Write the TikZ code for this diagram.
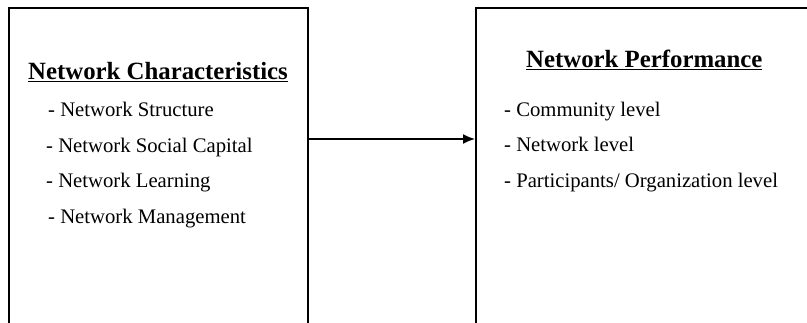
\documentclass[tikz,border=0pt]{standalone}
\usepackage{fontspec}
\setmainfont{Liberation Serif}
\usepackage{tikz}
\usetikzlibrary{arrows.meta, positioning}

\begin{document}
\begin{tikzpicture}[
  x=1pt, y=-1pt,
  box/.style={draw, line width=1.6pt, minimum height=340pt, anchor=north west, inner sep=0pt},
  title/.style={anchor=base west, inner sep=0pt, font=\fontsize{24.8}{28}\selectfont\bfseries},
  item/.style={anchor=base west, inner sep=0pt, font=\fontsize{20.7}{24}\selectfont},
  arrow/.style={-{Latex[length=12pt,width=10pt]}, line width=1.6pt}
]
\useasboundingbox (0,0) rectangle (807,323);
\clip (0,0) rectangle (807,323);

% Nodes
\node[box, minimum width=299pt] (nc) at (8,7) {};
\node[box, minimum width=345pt] (np) at (475,7) {};

\node[title] (nct) at (28,80) {\underline{Network Characteristics}};
\node[item] (nc1) at (48,117) {- Network Structure};
\node[item] (nc2) at (46,153) {- Network Social Capital};
\node[item] (nc3) at (46,188) {- Network Learning};
\node[item] (nc4) at (48,224) {- Network Management};

\node[title] (npt) at (526,68) {\underline{Network Performance}};
\node[item] (np1) at (504,117) {- Community level};
\node[item] (np2) at (504,152) {- Network level};
\node[item] (np3) at (504,188) {- Participants/ Organization level};

% Pointers
\coordinate (mid) at (0,139);
\draw[arrow] (mid -| nc.east) -- (mid -| np.west);
\end{tikzpicture}
\end{document}
